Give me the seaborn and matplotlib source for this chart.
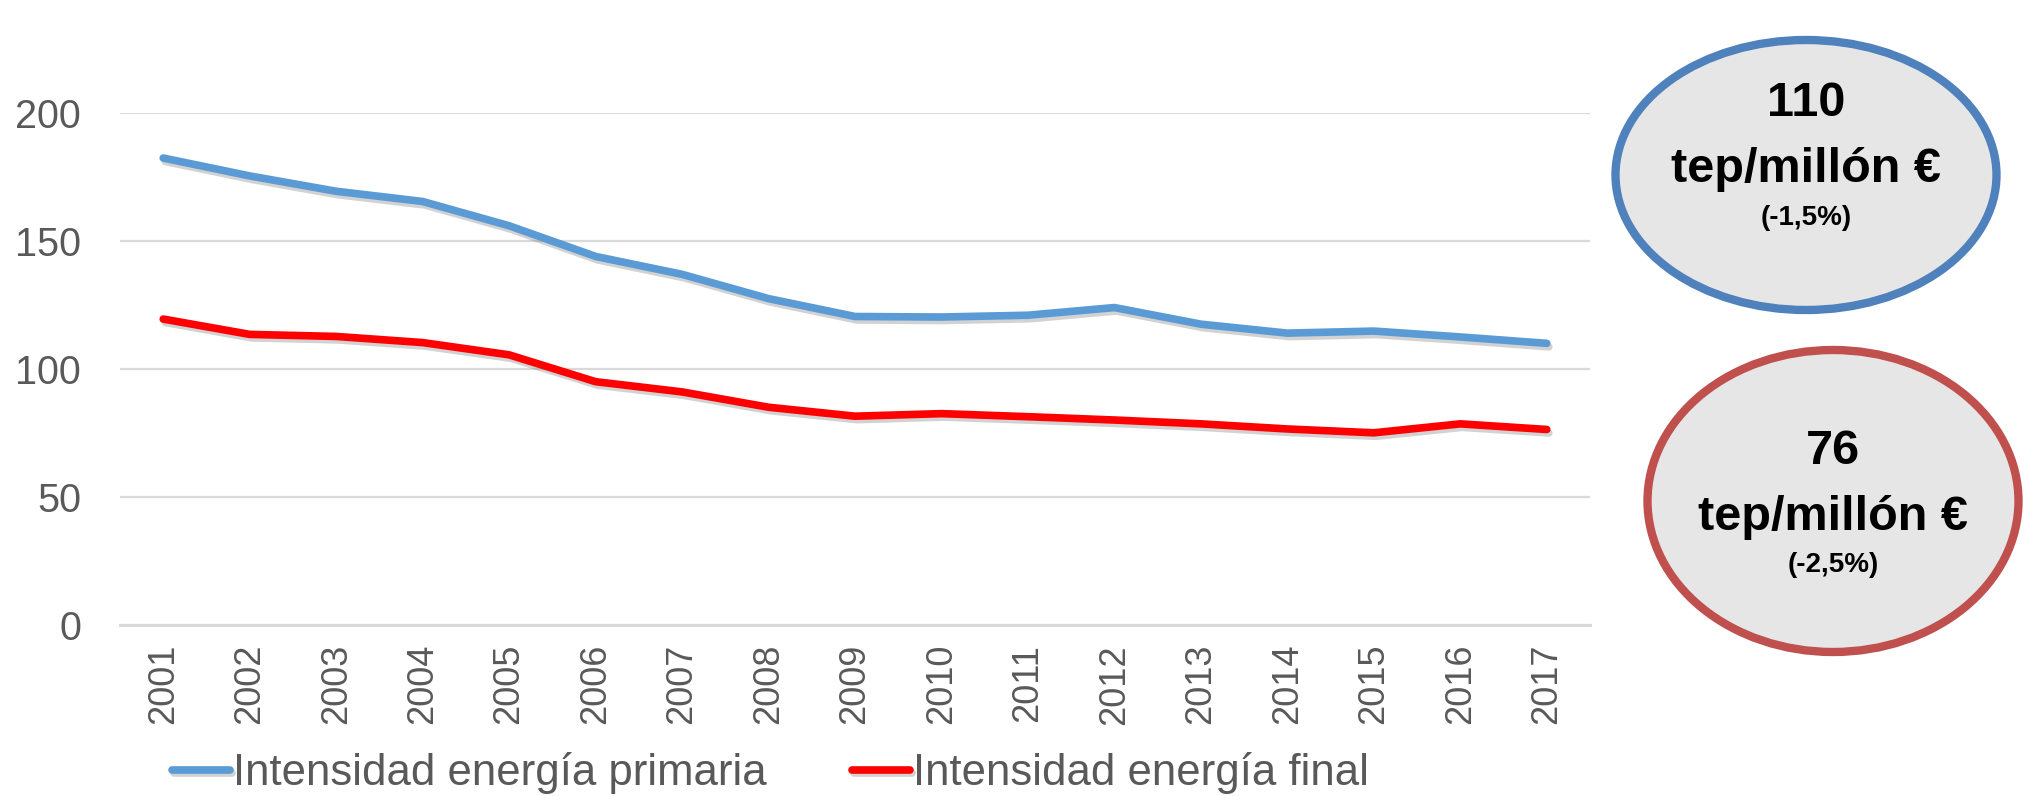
import matplotlib
matplotlib.use('Agg')
import numpy as np
import pandas as pd
import seaborn as sns
import matplotlib.pyplot as plt
from matplotlib.patches import Ellipse
import matplotlib.patheffects as pe

# data (tep / millón €)
years = list(range(2001, 2018))
primaria = [182.5, 175.5, 169.5, 165.5, 156.0, 144.0, 137.0, 127.5, 120.5,
            120.3, 121.0, 124.0, 117.5, 114.0, 114.8, 112.5, 110.0]
final = [119.5, 113.5, 112.7, 110.3, 105.5, 95.0, 91.0, 85.0, 81.5,
         82.5, 81.3, 80.0, 78.5, 76.5, 75.0, 78.5, 76.3]
series_names = ['Intensidad energía primaria', 'Intensidad energía final']
series_colors = ['#5b9bd5', '#ff0000']
y_ticks = [0, 50, 100, 150, 200]

bubble_values = ['110', '76']
bubble_units = ['tep/millón €', 'tep/millón €']
bubble_changes = ['(-1,5%)', '(-2,5%)']
bubble_edges = ['#4f81bd', '#c0504d']

df = pd.DataFrame({
    'year': years * 2,
    'valor': primaria + final,
    'serie': [series_names[0]] * len(years) + [series_names[1]] * len(years),
})

sns.set_theme(style='white')
plt.rcParams['font.family'] = ['Liberation Sans', 'DejaVu Sans']

fig = plt.figure(figsize=(20.26, 7.96), dpi=100)
ax = fig.add_axes([120 / 2026, 1 - 624.5 / 796, 1470 / 2026, 511.2 / 796])

sns.lineplot(data=df, x='year', y='valor', hue='serie', hue_order=series_names,
             palette=series_colors, linewidth=5.5, legend=False, ax=ax)
for ln in ax.get_lines():
    ln.set_solid_capstyle('round')
    ln.set_solid_joinstyle('round')
    ln.set_path_effects([pe.SimpleLineShadow(offset=(1.5, -2.5), shadow_color='#7f7f7f', alpha=0.35),
                         pe.Normal()])

ax.set_xlim(years[0] - 0.5, years[-1] + 0.5)
ax.set_ylim(0, 200)
ax.set_xticks(years)
ax.set_xticklabels([str(y) for y in years], rotation=90, fontsize=26, color='#595959')
ax.set_yticks(y_ticks)
ax.set_yticklabels([str(v) for v in y_ticks], fontsize=28.5, color='#595959')
ax.tick_params(axis='x', length=0, pad=14)
ax.tick_params(axis='y', length=0, pad=28)
ax.set_xlabel('')
ax.set_ylabel('')
ax.grid(axis='y', color='#d9d9d9', linewidth=1.6)
ax.set_axisbelow(True)
for s in ['top', 'right', 'left']:
    ax.spines[s].set_visible(False)
ax.spines['bottom'].set_color('#d9d9d9')
ax.spines['bottom'].set_linewidth(2.2)

handles = ax.get_lines()[:2]
leg = fig.legend(handles, series_names, loc='center left',
                 bbox_to_anchor=(172 / 2026, 1 - 773 / 796), ncol=2, frameon=False,
                 borderpad=0, borderaxespad=0, handlelength=1.33, handletextpad=0.07,
                 columnspacing=1.95, prop={'size': 31.5})
for t in leg.get_texts():
    t.set_color('#595959')

# overlay in pixel units for the two bubbles
ov = fig.add_axes([0, 0, 1, 1])
ov.set_xlim(0, 2026)
ov.set_ylim(796, 0)
ov.axis('off')
ov.patch.set_alpha(0)

centers = [(1806, 175), (1833, 501)]
sizes = [(381, 270), (371, 302)]
text_offsets = [(-72, -6, 43), (-50, 16, 64)]
for i in range(2):
    cx, cy = centers[i]
    w, h = sizes[i]
    ov.add_patch(Ellipse((cx, cy), w, h, facecolor='#e6e6e6',
                         edgecolor=bubble_edges[i], linewidth=6))
    d1, d2, d3 = text_offsets[i]
    ov.text(cx, cy + d1, bubble_values[i], ha='center', va='center',
            fontsize=35, fontweight='bold', color='black')
    ov.text(cx, cy + d2, bubble_units[i], ha='center', va='center',
            fontsize=35, fontweight='bold', color='black')
    ov.text(cx, cy + d3, bubble_changes[i], ha='center', va='center',
            fontsize=20, fontweight='bold', color='black')

fig.savefig('out.png', dpi=100)
